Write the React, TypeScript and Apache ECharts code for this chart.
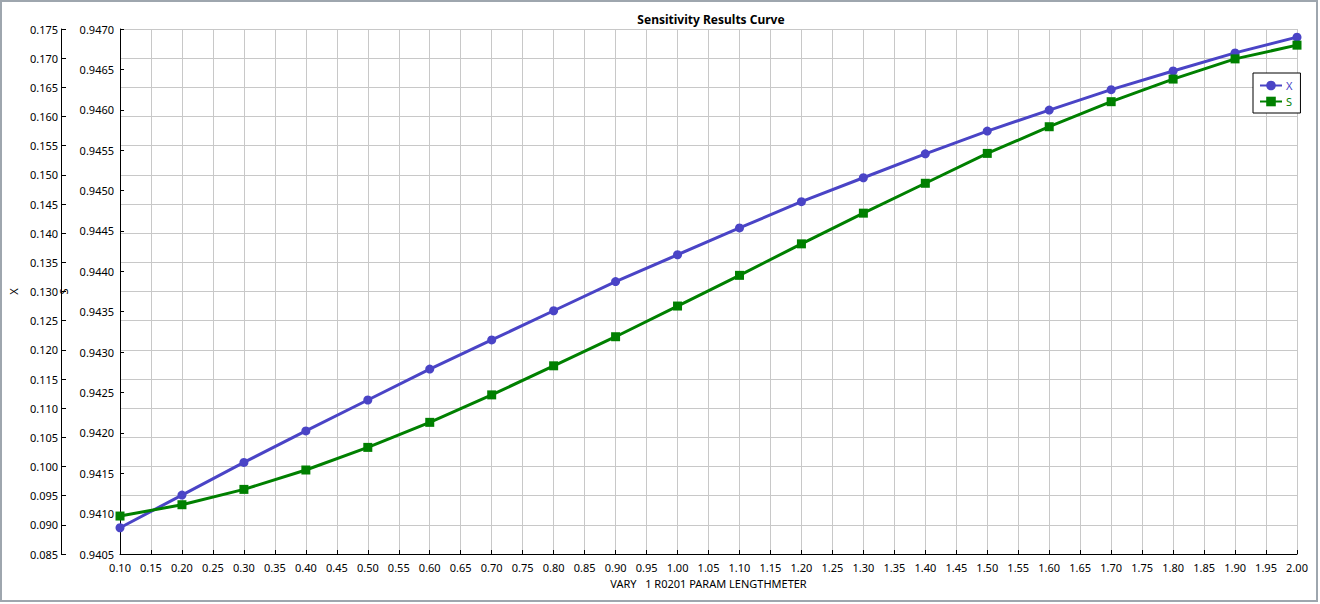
import React, { useEffect, useRef } from 'react';
import * as echarts from 'echarts';

const lengths = [
  0.1, 0.2, 0.3, 0.4, 0.5, 0.6, 0.7, 0.8, 0.9, 1.0,
  1.1, 1.2, 1.3, 1.4, 1.5, 1.6, 1.7, 1.8, 1.9, 2.0,
];

const xValues = [
  0.0895, 0.0951, 0.1007, 0.1061, 0.1114, 0.1167, 0.1217, 0.1267, 0.1317, 0.1363,
  0.1409, 0.1454, 0.1495, 0.1536, 0.1575, 0.1611, 0.1646, 0.1678, 0.1709, 0.1736,
];

const sValues = [
  0.94097, 0.94111, 0.9413, 0.94154, 0.94182, 0.94213, 0.94247, 0.94283, 0.94319, 0.94357,
  0.94395, 0.94434, 0.94472, 0.94509, 0.94546, 0.94579, 0.9461, 0.94638, 0.94663, 0.9468,
];

const FONT = 'Noto Sans';

const SensitivityChart: React.FC = () => {
  const chartRef = useRef<HTMLDivElement | null>(null);

  useEffect(() => {
    const chart = echarts.init(chartRef.current!, undefined, { renderer: 'svg' });

    const axisText = { color: '#000', fontSize: 11, fontFamily: FONT };

    const option: echarts.EChartsOption = {
      animation: false,
      backgroundColor: '#fff',
      title: {
        text: 'Sensitivity Results Curve',
        left: 706,
        top: 8,
        textAlign: 'center',
        textStyle: { fontSize: 12, fontWeight: 'bold', color: '#000', fontFamily: FONT },
      },
      legend: {
        left: 1253,
        top: 73,
        orient: 'vertical',
        borderColor: '#000',
        borderWidth: 1,
        backgroundColor: '#fff',
        padding: [7, 8, 6, 6],
        itemGap: 5,
        itemWidth: 22,
        itemHeight: 12,
        textStyle: { fontSize: 11, fontFamily: FONT, padding: [0, 0, 0, -1] },
        data: [
          { name: 'X', textStyle: { color: '#4a44c6' } },
          { name: 'S', textStyle: { color: '#008000' } },
        ],
      },
      graphic: [
        {
          type: 'rect',
          shape: { x: 1, y: 1, width: 1316, height: 600 },
          style: { fill: 'none', stroke: '#9ea6ae', lineWidth: 2 },
          silent: true,
        },
      ],
      grid: { left: 116, right: 23, top: 29, bottom: 50 },
      xAxis: {
        type: 'value',
        min: 0.1,
        max: 2.0,
        interval: 0.05,
        name: 'VARY   1 R0201 PARAM LENGTHMETER',
        nameLocation: 'middle',
        nameGap: 24,
        nameTextStyle: axisText,
        axisLine: { lineStyle: { color: '#000', width: 1 } },
        axisTick: { inside: true, length: 4, lineStyle: { color: '#000' } },
        axisLabel: { ...axisText, margin: 8, formatter: (v: number) => v.toFixed(2) },
        splitLine: { show: true, lineStyle: { color: '#c8c8c8', width: 1 } },
      },
      yAxis: [
        {
          type: 'value',
          name: 'X',
          position: 'left',
          offset: 59,
          min: 0.085,
          max: 0.175,
          interval: 0.005,
          nameLocation: 'middle',
          nameGap: 37,
          nameTextStyle: axisText,
          axisLine: { show: true, lineStyle: { color: '#000', width: 1 } },
          axisTick: { show: true, inside: true, length: 5, lineStyle: { color: '#000' } },
          axisLabel: { ...axisText, margin: 3, formatter: (v: number) => v.toFixed(3) },
          splitLine: { show: true, lineStyle: { color: '#c8c8c8', width: 1 } },
        },
        {
          type: 'value',
          name: 'S',
          position: 'left',
          offset: 0,
          min: 0.9405,
          max: 0.947,
          interval: 0.0005,
          nameLocation: 'middle',
          nameGap: 46,
          nameTextStyle: axisText,
          axisLine: { show: true, lineStyle: { color: '#000', width: 1 } },
          axisTick: { show: true, inside: true, length: 4, lineStyle: { color: '#000' } },
          axisLabel: { ...axisText, margin: 6, formatter: (v: number) => v.toFixed(4) },
          splitLine: { show: false },
        },
      ],
      series: [
        {
          name: 'X',
          type: 'line',
          yAxisIndex: 0,
          data: lengths.map((l, i) => [l, xValues[i]]),
          symbol: 'circle',
          symbolSize: 9,
          lineStyle: { color: '#4a44c6', width: 3 },
          itemStyle: { color: '#4a44c6' },
        },
        {
          name: 'S',
          type: 'line',
          yAxisIndex: 1,
          data: lengths.map((l, i) => [l, sValues[i]]),
          symbol: 'rect',
          symbolSize: 9,
          lineStyle: { color: '#008000', width: 3 },
          itemStyle: { color: '#008000' },
        },
      ],
    };

    chart.setOption(option);

    return () => {
      chart.dispose();
    };
  }, []);

  return (
    <div
      ref={chartRef}
      style={{ position: 'absolute', left: 0, top: 0, width: '1320px', height: '604px' }}
    />
  );
};

export default function App() {
  return <SensitivityChart />;
}
